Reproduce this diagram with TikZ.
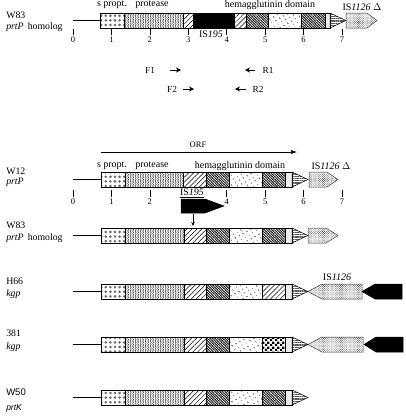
\documentclass[tikz,border=0pt]{standalone}
\usepackage{fontspec}
\setmainfont{Liberation Serif}
\setsansfont{Liberation Sans}
\usetikzlibrary{patterns,patterns.meta,arrows.meta,positioning}

% protease: zigzag fill
\pgfdeclarepatternformonly{zigzag}{\pgfqpoint{-.5pt}{-.5pt}}{\pgfqpoint{3pt}{3pt}}{\pgfqpoint{2.5pt}{2.5pt}}{%
  \pgfsetlinewidth{.45pt}
  \pgfpathmoveto{\pgfqpoint{0pt}{0pt}}
  \pgfpathlineto{\pgfqpoint{1.25pt}{1.25pt}}
  \pgfpathlineto{\pgfqpoint{0pt}{2.5pt}}
  \pgfusepath{stroke}}
% checker board
\pgfdeclarepatternformonly{checkers}{\pgfpointorigin}{\pgfqpoint{5pt}{5pt}}{\pgfqpoint{5pt}{5pt}}{%
  \pgfpathrectangle{\pgfpointorigin}{\pgfqpoint{2.5pt}{2.5pt}}
  \pgfpathrectangle{\pgfqpoint{2.5pt}{2.5pt}}{\pgfqpoint{2.5pt}{2.5pt}}
  \pgfusepath{fill}}

\tikzset{
  spropt/.style={draw, pattern={Dots[radius=1.4pt,distance=4.6pt]}, pattern color=gray!80!black},
  prot/.style={draw, pattern=zigzag, pattern color=gray!60!black},
  diag/.style={draw, pattern={Lines[angle=45,distance=3.5pt,line width=.5pt]}},
  dense/.style={draw, pattern={Lines[angle=-45,distance=1.8pt,line width=1.05pt]}, pattern color=black!85},
  hdots/.style={draw, pattern={Dots[radius=.6pt,distance=4pt,angle=30]}},
  checker/.style={draw, pattern=checkers},
  gapseg/.style={draw, fill=gray!15},
  stripe/.style={draw, pattern={Lines[angle=0,distance=1.8pt,line width=.7pt]}, pattern color=gray!70!black},
  isdelta/.style={draw=black!75, pattern={Dots[radius=.5pt,distance=1.5pt,angle=45]}, pattern color=black!70},
  isblack/.style={draw, fill=black},
  lead/.style={line width=1.6pt},
  tickmark/.style={line width=.5pt},
  ticklabel/.style={anchor=north, inner sep=1.5pt, font=\fontsize{8.5}{9}\selectfont},
  strain/.style={anchor=west, inner sep=0pt, font=\fontsize{9.8}{11}\selectfont},
  primer/.style={line width=1pt, -{Stealth[length=5pt,width=5pt]}},
  plabel/.style={inner sep=0pt, font=\fontsize{9.3}{10}\selectfont}
}

\begin{document}
\begin{tikzpicture}[x=1pt,y=-1pt,line width=.5pt,font=\fontsize{10}{11}\selectfont]
\useasboundingbox (0,0) rectangle (406,416);

% ---------- W83 prtP homolog (top) ----------
\node[strain] (nA1) at (6,15) {W83};
\node[strain] (nA2) at (6,27) {\textit{prtP}\, homolog};
\draw[lead] (73,20.5) -- (100,20.5);
\foreach \xa/\xb/\st in {100/124/spropt,124/183/prot,183/193/diag,193/234/isblack,234/246/diag,
    246/268/dense,268/301/hdots,301/325/dense,325/330/gapseg}
  \path[\st] (\xa,13) rectangle (\xb,28);
\path[stripe] (330,13) -- (346,20.5) -- (330,28) -- cycle;
\path[isdelta] (346,13) -- (367,13) -- (377,20.5) -- (367,28) -- (346,28) -- cycle;
\node (spA) at (112,5) {s propt.};
\node (protA) at (152,5) {protease};
\node (hemA) at (270,5) {hemagglutinin domain};
\node (isdA) at (362,7) {IS\textit{1126} $\Delta$};
\node (is195A) at (211,34) {IS\textit{195}};
\foreach \k in {0,...,7}
  \draw[tickmark] (73+38.43*\k,29) -- (73+38.43*\k,35) node[ticklabel] {\k};

% ---------- primers ----------
\node[plabel] (F1) at (150,70) {F1};
\node[plabel] (F2) at (172,89) {F2};
\node[plabel] (R1) at (268,70) {R1};
\node[plabel] (R2) at (258,89) {R2};
\coordinate (f1s) at (170,70); \coordinate (f1e) at (181,70);
\coordinate (f2s) at (183,89); \coordinate (f2e) at (194,89);
\coordinate (r1s) at (255,70); \coordinate (r1e) at (245,70);
\coordinate (r2s) at (246,89); \coordinate (r2e) at (235,89);
\draw[primer] (f1s) -- (f1e);
\draw[primer] (f2s) -- (f2e);
\draw[primer] (r1s) -- (r1e);
\draw[primer] (r2s) -- (r2e);

% ---------- ORF ----------
\coordinate (orfs) at (101,152);
\coordinate (orfe) at (297,152);
\draw[-{Latex[length=6pt,width=4pt]}] (orfs) -- (orfe);
\node[font=\fontsize{8.5}{9}\selectfont] (orf) at (198,145) {ORF};

% ---------- W12 prtP ----------
\node[strain] (nB1) at (6,171) {W12};
\node[strain] (nB2) at (6,182) {\textit{prtP}};
\draw[lead] (73,179.5) -- (101,179.5);
\foreach \xa/\xb/\st in {101/125/spropt,125/183/prot,183/206/diag,206/229/dense,229/262/hdots,
    262/285/dense,285/292/gapseg}
  \path[\st] (\xa,172) rectangle (\xb,187);
\path[stripe] (292,172) -- (308,179.5) -- (292,187) -- cycle;
\path[isdelta] (309,172) -- (327,172) -- (338,179.5) -- (327,187) -- (309,187) -- cycle;
\node (spB) at (112,166) {s propt.};
\node (protB) at (152,166) {protease};
\node (hemB) at (240,166) {hemagglutinin domain};
\node (isdB) at (331,166) {IS\textit{1126} $\Delta$};
\foreach \k in {0,1,2,4,5,6,7}
  \draw[tickmark] (73+38.43*\k,190) -- (73+38.43*\k,197) node[ticklabel] {\k};

% IS195 insertion
\node (is195B) at (192,193) {\underline{IS\textit{195}}};
\path[isblack] (181,199) -- (205,199) -- (224,206) -- (205,213) -- (181,213) -- cycle;
\coordinate (ins1) at (193,214);
\coordinate (ins2) at (193,226);
\draw[-{Stealth[length=4pt,width=3.5pt]}] (ins1) -- (ins2);

% ---------- W83 prtP homolog ----------
\node[strain] (nC1) at (6,225) {W83};
\node[strain] (nC2) at (6,238) {\textit{prtP}\, homolog};
\draw[lead] (73,235.5) -- (101,235.5);
\foreach \xa/\xb/\st in {101/125/spropt,125/184/prot,184/206/diag,206/229/dense,229/262/hdots,
    262/285/dense,285/292/gapseg}
  \path[\st] (\xa,228) rectangle (\xb,243);
\path[stripe] (292,228) -- (308,235.5) -- (292,243) -- cycle;
\path[isdelta] (308,228) -- (326,228) -- (338,235.5) -- (326,243) -- (308,243) -- cycle;

% ---------- H66 kgp ----------
\node[strain] (nD1) at (6,281) {H66};
\node[strain] (nD2) at (6,294) {\textit{kgp}};
\draw[lead] (73,291.5) -- (101,291.5);
\foreach \xa/\xb/\st in {101/125/spropt,125/184/prot,184/206/diag,206/229/dense,229/262/hdots,
    262/285/diag,285/292/gapseg}
  \path[\st] (\xa,284) rectangle (\xb,299);
\path[stripe] (292,284) -- (308,291.5) -- (292,299) -- cycle;
\path[isdelta] (308,291.5) -- (322,284) -- (362,284) -- (362,299) -- (322,299) -- cycle;
\path[isblack] (362,291.5) -- (375,284) -- (402,284) -- (402,299) -- (375,299) -- cycle;
\node (isD) at (337,277) {IS\textit{1126}};

% ---------- 381 kgp ----------
\node[strain] (nE1) at (6,333) {381};
\node[strain] (nE2) at (6,347) {\textit{kgp}};
\draw[lead] (73,344.5) -- (101,344.5);
\foreach \xa/\xb/\st in {101/125/spropt,125/184/prot,184/206/diag,206/229/dense,229/262/hdots,
    262/285/checker,285/292/gapseg}
  \path[\st] (\xa,337) rectangle (\xb,352);
\path[stripe] (292,337) -- (308,344.5) -- (292,352) -- cycle;
\path[isdelta] (308,344.5) -- (322,337) -- (363,337) -- (363,352) -- (322,352) -- cycle;
\path[isblack] (364,344.5) -- (376,337) -- (403,337) -- (403,352) -- (376,352) -- cycle;

% ---------- W50 prtK ----------
\node[strain, font=\sffamily\fontsize{9.5}{10}\selectfont] (nF1) at (6,392) {W50};
\node[strain, font=\sffamily\fontsize{8.5}{10}\selectfont] (nF2) at (6,408) {\textit{prtK}};
\draw[lead] (73,397.5) -- (101,397.5);
\foreach \xa/\xb/\st in {101/125/spropt,125/184/prot,184/206/diag,206/229/dense,229/262/hdots,
    262/285/dense,285/292/gapseg}
  \path[\st] (\xa,390) rectangle (\xb,405);
\path[stripe] (292,390) -- (308,397.5) -- (292,405) -- cycle;
\end{tikzpicture}
\end{document}
